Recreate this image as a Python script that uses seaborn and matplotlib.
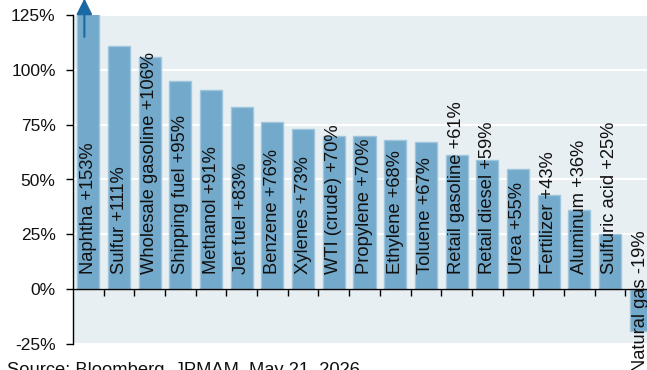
import numpy as np
import pandas as pd
import matplotlib
matplotlib.use("Agg")
import matplotlib.pyplot as plt
from matplotlib.ticker import FuncFormatter
import seaborn as sns

# Price change since the start of the conflict, by commodity (%)
commodities = [
    "Naphtha", "Sulfur", "Wholesale gasoline", "Shipping fuel", "Methanol",
    "Jet fuel", "Benzene", "Xylenes", "WTI (crude)", "Propylene", "Ethylene",
    "Toluene", "Retail gasoline", "Retail diesel", "Urea", "Fertilizer",
    "Aluminum", "Sulfuric acid", "Natural gas",
]
changes = [153, 111, 106, 95, 91, 83, 76, 73, 70, 70, 68, 67, 61, 59, 55, 43, 36, 25, -19]
y_ticks = [-25, 0, 25, 50, 75, 100, 125]
source_note = "Source: Bloomberg, JPMAM. May 21, 2026."

df = pd.DataFrame({"commodity": commodities, "change": changes})

sns.set_theme(style="white")
plt.rcParams["font.family"] = ["Liberation Sans", "DejaVu Sans"]

BAR = "#73a9cb"
BAR_EDGE = "#9fc6dd"
PANEL = "#e7eff3"
ARROW = "#1b69a2"
INK = "#111111"

fig = plt.figure(figsize=(6.47, 3.70), dpi=100)
ax = fig.add_axes([73 / 647, 26 / 370, 583 / 647, 329 / 370])
ax.set_facecolor(PANEL)

sns.barplot(data=df, x="commodity", y="change", color=BAR, width=0.72,
            saturation=1, edgecolor=BAR_EDGE, linewidth=1, ax=ax, zorder=2)

ax.set_ylim(y_ticks[0], y_ticks[-1])
ax.set_xlim(-0.5, len(commodities) - 0.5)
ax.set_yticks(y_ticks)
ax.yaxis.set_major_formatter(FuncFormatter(lambda v, _: f"{v:.0f}%"))
ax.yaxis.grid(True, color="white", linewidth=1.6, zorder=0)
ax.set_axisbelow(True)
ax.set_xlabel("")
ax.set_ylabel("")

# category separators drawn as ticks on the zero line
ax.set_xticks(np.arange(len(commodities) - 1) + 0.5)
ax.set_xticklabels([])
ax.spines["bottom"].set_position(("data", 0))
for side in ("top", "right"):
    ax.spines[side].set_visible(False)
for side in ("left", "bottom"):
    ax.spines[side].set_color("black")
    ax.spines[side].set_linewidth(1.0)
    ax.spines[side].set_zorder(3)
ax.tick_params(axis="both", which="major", direction="out", length=5, width=1,
               color="black", labelsize=12.5, labelcolor=INK,
               left=True, bottom=True)
ax.tick_params(axis="y", pad=7.5)

# rotated labels inside each bar
for i, (name, val) in enumerate(zip(commodities, changes)):
    label = f"{name} {val:+d}%"
    if val >= 0:
        ax.annotate(label, xy=(i, 0), xytext=(0, 15), textcoords="offset pixels",
                    rotation=90, ha="center", va="bottom", fontsize=13.2,
                    color=INK, annotation_clip=False, zorder=4)
    else:
        ax.annotate(label, xy=(i, 0), xytext=(0, 59), textcoords="offset pixels",
                    rotation=90, ha="center", va="top", fontsize=13.2,
                    color=INK, annotation_clip=False, zorder=4)

# arrow showing the first bar runs past the top of the scale
ax.annotate("", xy=(-0.13, 132.5), xytext=(-0.13, 115),
            arrowprops=dict(arrowstyle="-|>", color=ARROW, lw=1.5,
                            mutation_scale=24, shrinkA=0, shrinkB=0, clip_on=False),
            annotation_clip=False, zorder=5)

fig.text(7 / 647, 1 - 362 / 370, source_note, fontsize=13.2, color=INK,
         ha="left", va="top")

fig.savefig("out.png", dpi=100)
